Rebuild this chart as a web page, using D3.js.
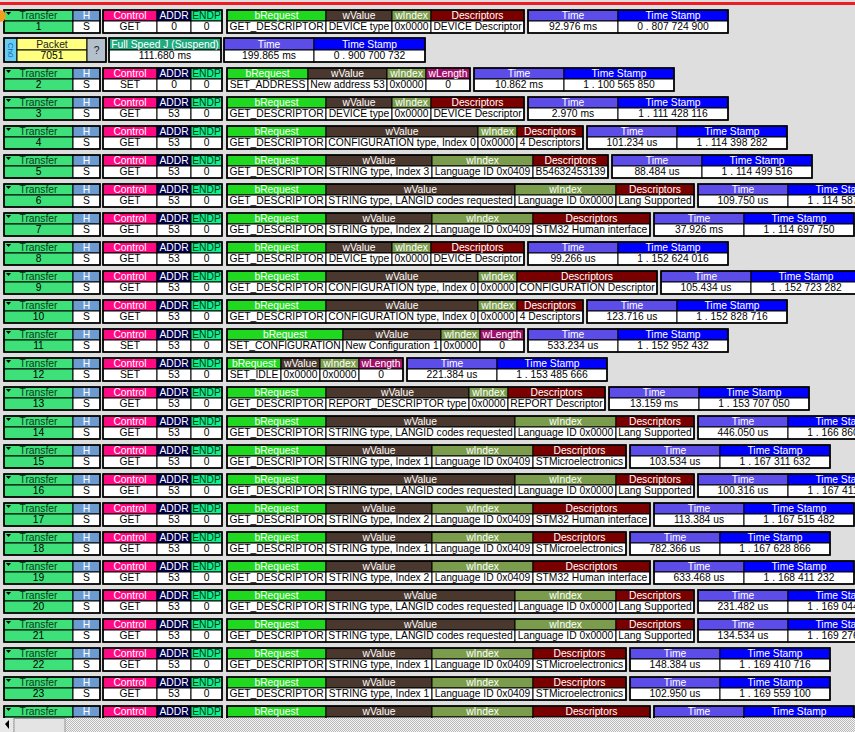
<!DOCTYPE html>
<html>
<head>
<meta charset="utf-8">
<script src="https://cdn.jsdelivr.net/npm/d3@7"></script>
<style>
  body { margin: 0; background: #dedede; overflow: hidden; }
  svg { display: block; font-family: "Liberation Sans", Arial, sans-serif; font-size: 10.3px; }
</style>
</head>
<body>
<svg id="chart" width="855" height="732"></svg>
<script>
(function () {
    "use strict";

    // transfer rows
    var transferIds = [1, 2, 3, 4, 5, 6, 7, 8, 9, 10, 11, 12, 13, 14, 15, 16, 17, 18, 19, 20, 21, 22, 23, 24];
    var controls = ["GET", "SET", "GET", "GET", "GET", "GET", "GET", "GET", "GET", "GET", "SET", "SET",
                    "GET", "GET", "GET", "GET", "GET", "GET", "GET", "GET", "GET", "GET", "GET", "GET"];
    var addrs = [0, 0, 53, 53, 53, 53, 53, 53, 53, 53, 53, 53, 53, 53, 53, 53, 53, 53, 53, 53, 53, 53, 53, 53];
    var bRequests = ["GET_DESCRIPTOR", "SET_ADDRESS", "GET_DESCRIPTOR", "GET_DESCRIPTOR", "GET_DESCRIPTOR",
                     "GET_DESCRIPTOR", "GET_DESCRIPTOR", "GET_DESCRIPTOR", "GET_DESCRIPTOR", "GET_DESCRIPTOR",
                     "SET_CONFIGURATION", "SET_IDLE", "GET_DESCRIPTOR", "GET_DESCRIPTOR", "GET_DESCRIPTOR",
                     "GET_DESCRIPTOR", "GET_DESCRIPTOR", "GET_DESCRIPTOR", "GET_DESCRIPTOR", "GET_DESCRIPTOR",
                     "GET_DESCRIPTOR", "GET_DESCRIPTOR", "GET_DESCRIPTOR", "GET_DESCRIPTOR"];
    var LANG = "STRING type, LANGID codes requested";
    var wValues = ["DEVICE type", "New address 53", "DEVICE type", "CONFIGURATION type, Index 0",
                   "STRING type, Index 3", LANG, "STRING type, Index 2", "DEVICE type",
                   "CONFIGURATION type, Index 0", "CONFIGURATION type, Index 0", "New Configuration 1",
                   "0x0000", "REPORT_DESCRIPTOR type", LANG, "STRING type, Index 1", LANG,
                   "STRING type, Index 2", "STRING type, Index 1", "STRING type, Index 2", LANG, LANG,
                   "STRING type, Index 1", "STRING type, Index 1", "STRING type, Index 2"];
    var L0 = "Language ID 0x0000", L9 = "Language ID 0x0409";
    var wIndexes = ["0x0000", "0x0000", "0x0000", "0x0000", L9, L0, L9, "0x0000", "0x0000", "0x0000",
                    "0x0000", "0x0000", "0x0000", L0, L9, L0, L9, L9, L9, L0, L0, L9, L9, L9];
    var lastHeaders = ["Descriptors", "wLength", "Descriptors", "Descriptors", "Descriptors", "Descriptors",
                       "Descriptors", "Descriptors", "Descriptors", "Descriptors", "wLength", "wLength",
                       "Descriptors", "Descriptors", "Descriptors", "Descriptors", "Descriptors", "Descriptors",
                       "Descriptors", "Descriptors", "Descriptors", "Descriptors", "Descriptors", "Descriptors"];
    var LS = "Lang Supported", ST = "STMicroelectronics", HI = "STM32 Human interface";
    var lastValues = ["DEVICE Descriptor", "0", "DEVICE Descriptor", "4 Descriptors", "B54632453139", LS, HI,
                      "DEVICE Descriptor", "CONFIGURATION Descriptor", "4 Descriptors", "0", "0",
                      "REPORT Descriptor", LS, ST, LS, HI, ST, HI, LS, LS, ST, ST, HI];
    var times = ["92.976 ms", "10.862 ms", "2.970 ms", "101.234 us", "88.484 us", "109.750 us", "37.926 ms",
                 "99.266 us", "105.434 us", "123.716 us", "533.234 us", "221.384 us", "13.159 ms",
                 "446.050 us", "103.534 us", "100.316 us", "113.384 us", "782.366 us", "633.468 us",
                 "231.482 us", "134.534 us", "148.384 us", "102.950 us", ""];
    var stamps = ["0 . 807 724 900", "1 . 100 565 850", "1 . 111 428 116", "1 . 114 398 282",
                  "1 . 114 499 516", "1 . 114 587 266", "1 . 114 697 750", "1 . 152 624 016",
                  "1 . 152 723 282", "1 . 152 828 716", "1 . 152 952 432", "1 . 153 485 666",
                  "1 . 153 707 050", "1 . 166 860 100", "1 . 167 311 632", "1 . 167 411 966",
                  "1 . 167 515 482", "1 . 167 628 866", "1 . 168 411 232", "1 . 169 044 700",
                  "1 . 169 276 182", "1 . 169 410 716", "1 . 169 559 100", ""];

    // the idle packet between transfer 1 and 2
    var packet = { id: "7051", state: "Full Speed J (Suspend)", dur: "111.680 ms",
                   time: "199.865 ms", stamp: "0 . 900 700 732" };

    var C = {
        transfer: "#3ee07a", h: "#6b9bd0", control: "#ff0a82", addr: "#00004e", endp: "#10f08a",
        bRequest: "#20d820", wValue: "#4a382e", wIndex: "#7a9c4c", Descriptors: "#7a0000",
        wLength: "#a0106a", time: "#5c4ce8", stamp: "#0000ff", packet: "#ffff80", ch: "#66ccf0",
        unknown: "#b4c0cc", state: "#20aa80"
    };

    var svg = d3.select("#chart");

    // hidden text used to size the variable columns
    var meter = svg.append("text").attr("visibility", "hidden");
    function tw(s) { meter.text(s); return meter.node().getComputedTextLength(); }

    var rowY = d3.scaleLinear().domain([2, 3]).range([68, 97]);
    function yOf(id) { return id === 1 ? 10 : rowY(id); }

    svg.append("rect").attr("x", 0).attr("y", 2).attr("width", 855).attr("height", 3).attr("fill", "#ee1c24");

    // draws a group of cells: each cell {w, head, hfill, htext, val, vfill, vtext}
    function group(x, y, cells, hh, vh) {
        var g = svg.append("g");
        var cx = x;
        cells.forEach(function (c) {
            if (c.span) {
                g.append("rect").attr("x", cx).attr("y", y).attr("width", c.w).attr("height", hh + vh)
                    .attr("fill", c.hfill).attr("stroke", "#000").attr("stroke-width", 1);
                g.append("text").attr("x", cx + c.w / 2).attr("y", y + (hh + vh) / 2 + 4)
                    .attr("text-anchor", "middle").attr("fill", c.htext || "#000").text(c.head);
            } else {
                g.append("rect").attr("x", cx).attr("y", y).attr("width", c.w).attr("height", hh)
                    .attr("fill", c.hfill).attr("stroke", "#000").attr("stroke-width", 1);
                g.append("rect").attr("x", cx).attr("y", y + hh).attr("width", c.w).attr("height", vh)
                    .attr("fill", c.vfill || "#fff").attr("stroke", "#000").attr("stroke-width", 1);
                c.x = cx;
            }
            cx += c.w;
        });
        g.append("rect").attr("x", x).attr("y", y).attr("width", cx - x).attr("height", hh + vh)
            .attr("fill", "none").attr("stroke", "#000").attr("stroke-width", 1.6);
        // texts last so no stroke covers underscores
        cells.forEach(function (c) {
            if (c.span) return;
            g.append("text").attr("x", c.x + c.w / 2).attr("y", y + hh - 2)
                .attr("text-anchor", "middle").attr("fill", c.htext || "#fff").text(c.head);
            g.append("text").attr("x", c.x + c.w / 2).attr("y", y + hh + vh - 3.5)
                .attr("text-anchor", "middle").attr("fill", c.vtext || "#000").text(c.val);
        });
        return cx;
    }

    function fit(a, b) { return Math.round(Math.max(tw(a), tw(b)) + 5); }

    transferIds.forEach(function (id, i) {
        var y = yOf(id);
        group(4, y, [
            { w: 69, head: "Transfer", hfill: C.transfer, htext: "#0a3a1a", val: id, vfill: C.transfer },
            { w: 27, head: "H", hfill: C.h, val: "S" }
        ], 11, 12);
        svg.append("path").attr("d", d3.line()([[6, y + 2], [11, y + 2], [8.5, y + 5]])).attr("fill", "#000");
        group(103, y, [
            { w: 54, head: "Control", hfill: C.control, val: controls[i] },
            { w: 34, head: "ADDR", hfill: C.addr, val: addrs[i] },
            { w: 31, head: "ENDP", hfill: C.endp, htext: "#0a3a1a", val: 0 }
        ], 11, 12);
        var x = group(227, y, [
            { w: fit("bRequest", bRequests[i]), head: "bRequest", hfill: C.bRequest, val: bRequests[i] },
            { w: fit("wValue", wValues[i]), head: "wValue", hfill: C.wValue, val: wValues[i] },
            { w: fit("wIndex", wIndexes[i]), head: "wIndex", hfill: C.wIndex, val: wIndexes[i] },
            { w: fit(lastHeaders[i], lastValues[i]), head: lastHeaders[i], hfill: C[lastHeaders[i]], val: lastValues[i] }
        ], 11, 12);
        group(x + 4, y, [
            { w: 90, head: "Time", hfill: C.time, val: times[i] },
            { w: 110, head: "Time Stamp", hfill: C.stamp, val: stamps[i] }
        ], 11, 12);
    });

    // idle packet row
    var py = 38;
    group(4, py, [
        { w: 13, span: true, head: "", hfill: C.ch },
        { w: 70, head: "Packet", hfill: C.packet, htext: "#222", val: packet.id, vfill: C.packet },
        { w: 19, span: true, head: "?", hfill: C.unknown, htext: "#222" }
    ], 12, 12);
    svg.append("text").attr("transform", "translate(8,50) rotate(90)").attr("text-anchor", "middle")
        .attr("fill", "#1060c0").style("font-size", "8px").text("Ch0");
    group(109, py, [
        { w: 112, head: "Full Speed J (Suspend)", hfill: C.state, val: packet.dur }
    ], 12, 12);
    group(224, py, [
        { w: 90, head: "Time", hfill: C.time, val: packet.time },
        { w: 111, head: "Time Stamp", hfill: C.stamp, val: packet.stamp }
    ], 12, 12);

    // orange marker on the first row
    svg.append("circle").attr("cx", 0).attr("cy", 16).attr("r", 6).attr("fill", "#f0a020");

    // horizontal scroll bar at the bottom
    var defs = svg.append("defs");
    var pat = defs.append("pattern").attr("id", "dither").attr("width", 2).attr("height", 2)
        .attr("patternUnits", "userSpaceOnUse");
    pat.append("rect").attr("width", 2).attr("height", 2).attr("fill", "#f4f4f4");
    pat.append("rect").attr("width", 1).attr("height", 1).attr("fill", "#b8b8b8");
    pat.append("rect").attr("x", 1).attr("y", 1).attr("width", 1).attr("height", 1).attr("fill", "#b8b8b8");
    svg.append("rect").attr("x", 0).attr("y", 718).attr("width", 855).attr("height", 14).attr("fill", "url(#dither)");
    svg.append("rect").attr("x", 0).attr("y", 718).attr("width", 13).attr("height", 14).attr("fill", "#e8e8e8");
    svg.append("path").attr("d", d3.line()([[5, 724], [9, 720], [9, 729]])).attr("fill", "#000");
    svg.append("rect").attr("x", 14).attr("y", 718.5).attr("width", 51).attr("height", 14)
        .attr("fill", "#e4e4e4").attr("stroke", "#999");

    meter.remove();
})();
</script>
</body>
</html>
